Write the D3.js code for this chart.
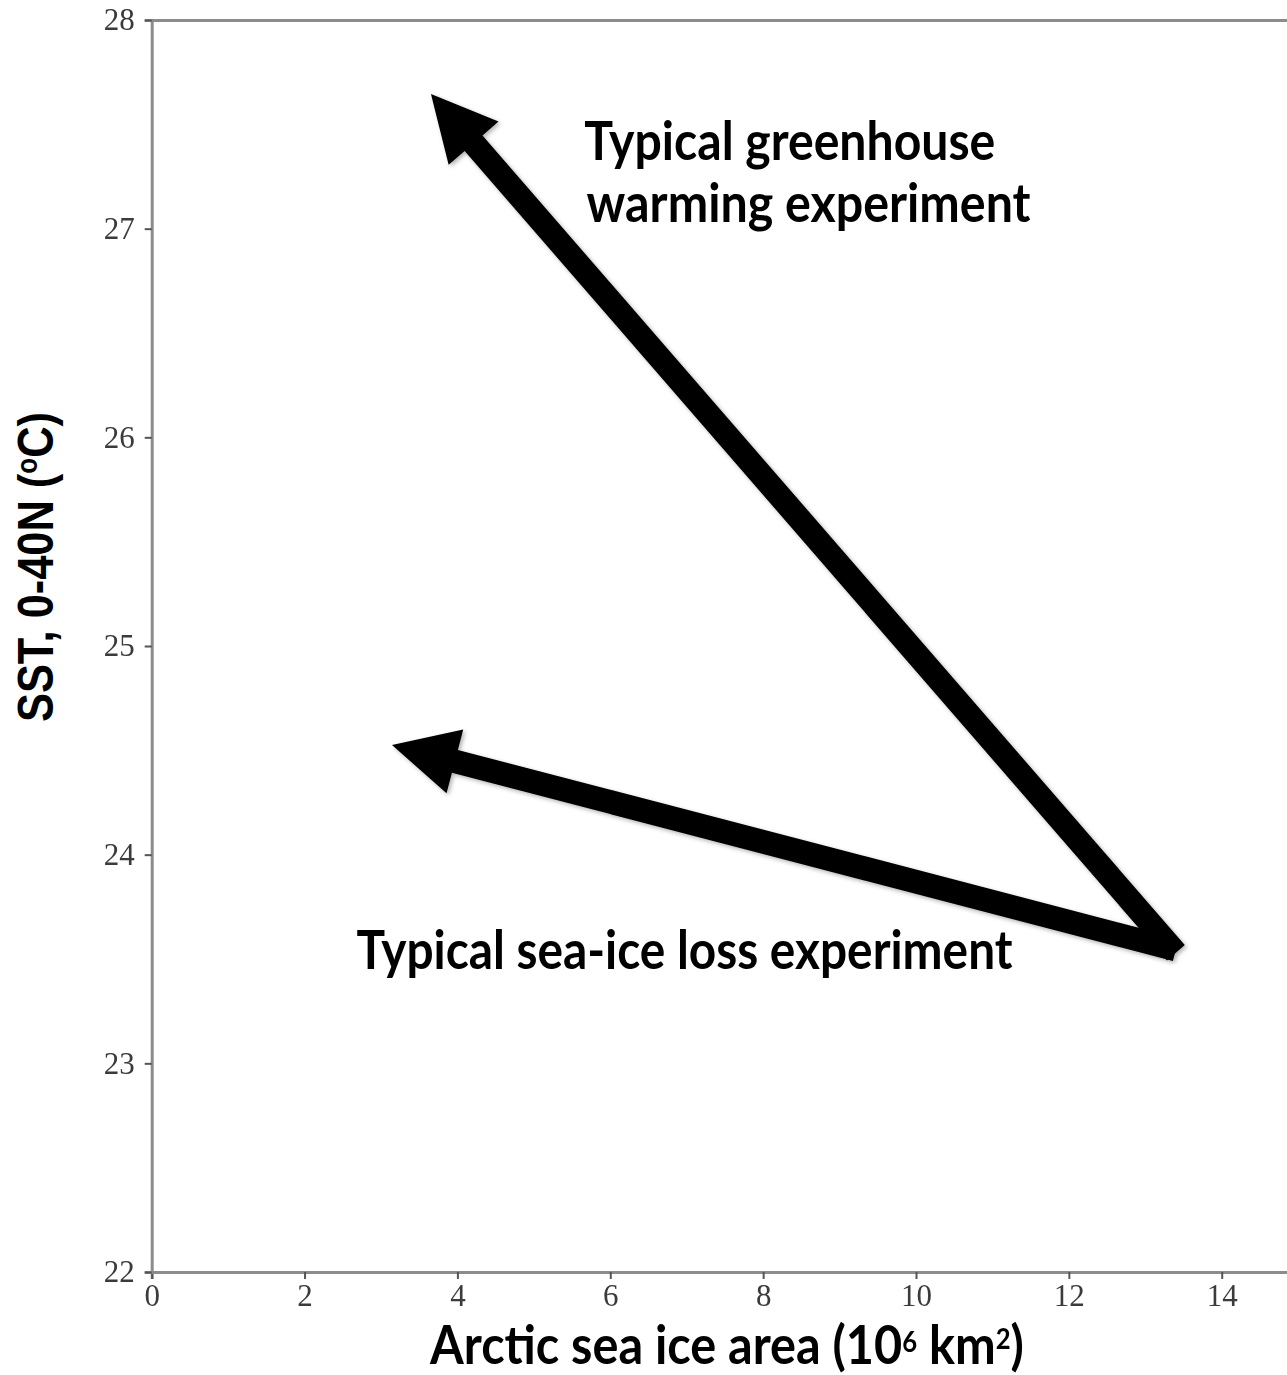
<!DOCTYPE html>
<html>
<head>
<meta charset="utf-8">
<script src="https://cdn.jsdelivr.net/npm/d3@7"></script>
<style>
  html, body { margin: 0; padding: 0; background: #fff; }
  svg { display: block; }
</style>
</head>
<body>
<svg id="chart" width="1287" height="1375"></svg>
<script>
// ===============================
// SST vs Arctic sea ice schematic
// ===============================

// axis ticks
const xTicks = [0, 2, 4, 6, 8, 10, 12, 14];
const yTicks = [22, 23, 24, 25, 26, 27, 28];

// arrows: [sea ice area, SST] for tail and tip
const arrowNames = ['greenhouse', 'seaice'];
const arrowTails = [[13.40, 23.53], [13.40, 23.545]];
const arrowTips = [[3.654, 27.645], [3.144, 24.526]];

// annotation text
const labelLines = ['Typical greenhouse', 'warming experiment', 'Typical sea-ice loss experiment'];
const labelAnchors = [[5.66, 27.33], [5.69, 27.03], [2.68, 23.45]];
const labelLengths = [411, 444, 656];

const svg = d3.select('#chart');
const margin = { left: 151.7, top: 20 };

const x = d3.scaleLinear().domain([0, 15]).range([margin.left, margin.left + 15 * 76.43]);
const y = d3.scaleLinear().domain([22, 28]).range([1272, margin.top]);

const defs = svg.append('defs');
defs.append('filter').attr('id', 'soft')
  .append('feGaussianBlur').attr('stdDeviation', 0.75);
defs.append('filter').attr('id', 'shadow')
  .attr('x', '-10%').attr('y', '-10%').attr('width', '120%').attr('height', '120%')
  .append('feDropShadow')
  .attr('dx', 2).attr('dy', 2).attr('stdDeviation', 2)
  .attr('flood-color', '#000').attr('flood-opacity', 0.3);

// Axes
const axes = svg.append('g').attr('filter', 'url(#soft)');

axes.append('g')
  .attr('transform', `translate(0,${y(22)})`)
  .call(d3.axisBottom(x).tickValues(xTicks).tickSize(7).tickPadding(5).tickFormat(d3.format('d')));

axes.append('g')
  .attr('transform', `translate(${x(0)},0)`)
  .call(d3.axisLeft(y).tickValues(yTicks).tickSize(7).tickPadding(10).tickFormat(d3.format('d')));

// top spine
axes.append('g')
  .attr('transform', `translate(0,${y(28)})`)
  .call(d3.axisTop(x).tickValues([]).tickSizeOuter(0));

axes.selectAll('.domain')
  .attr('stroke', '#8c8c8c')
  .attr('stroke-width', 3);
axes.selectAll('.tick line')
  .attr('stroke', '#555')
  .attr('stroke-width', 2);
axes.selectAll('.tick text')
  .attr('fill', '#3a3a3a')
  .style('font-family', '"Liberation Serif", serif')
  .style('font-size', '31px');

// Arrows
function arrowPath(tail, tip) {
  const x0 = x(tail[0]), y0 = y(tail[1]);
  const x1 = x(tip[0]), y1 = y(tip[1]);
  const dx = x1 - x0, dy = y1 - y0;
  const len = Math.hypot(dx, dy);
  const ux = dx / len, uy = dy / len;
  const px = -uy, py = ux;
  const shaft = 11.8, head = 33, headLen = 65;
  const bx = x1 - ux * headLen, by = y1 - uy * headLen;
  const pts = [
    [x0 + px * shaft, y0 + py * shaft],
    [bx + px * shaft, by + py * shaft],
    [bx + px * head, by + py * head],
    [x1, y1],
    [bx - px * head, by - py * head],
    [bx - px * shaft, by - py * shaft],
    [x0 - px * shaft, y0 - py * shaft]
  ];
  return 'M' + pts.map((p) => p.join(',')).join('L') + 'Z';
}

svg.append('g')
  .attr('filter', 'url(#shadow)')
  .selectAll('path')
  .data(arrowNames)
  .enter()
  .append('path')
  .attr('d', (d, i) => arrowPath(arrowTails[i], arrowTips[i]))
  .attr('fill', '#000');

// Annotations
svg.append('g')
  .selectAll('text')
  .data(labelLines)
  .enter()
  .append('text')
  .attr('x', (d, i) => x(labelAnchors[i][0]))
  .attr('y', (d, i) => y(labelAnchors[i][1]))
  .attr('textLength', (d, i) => labelLengths[i])
  .attr('lengthAdjust', 'spacingAndGlyphs')
  .style('font-family', 'Lato, sans-serif')
  .style('font-weight', 700)
  .style('font-size', '53px')
  .attr('fill', '#000')
  .text((d) => d);

// Axis titles (squeezed horizontally to the reference width)
function fitWidth(sel, target, place) {
  const w = sel.node().getBBox().width;
  sel.attr('transform', `${place} scale(${target / w},1)`);
}

const xTitle = svg.append('text')
  .style('font-family', 'Lato, sans-serif')
  .style('font-weight', 700)
  .style('font-size', '53px')
  .attr('fill', '#000');
xTitle.append('tspan').text('Arctic sea ice area (10');
xTitle.append('tspan').attr('dy', -12).style('font-size', '28px').text('6');
xTitle.append('tspan').attr('dy', 12).text(' km');
xTitle.append('tspan').attr('dy', -15).style('font-size', '28px').text('2');
xTitle.append('tspan').attr('dy', 15).text(')');
fitWidth(xTitle, 595, 'translate(430,1364)');

const yTitle = svg.append('text')
  .style('font-family', '"Liberation Sans", Arial, sans-serif')
  .style('font-weight', 700)
  .style('font-size', '50px')
  .attr('fill', '#000');
yTitle.append('tspan').text('SST, 0-40N (');
yTitle.append('tspan').attr('dy', -16).style('font-size', '30px').text('o');
yTitle.append('tspan').attr('dy', 16).text('C)');
fitWidth(yTitle, 310, 'translate(53,722) rotate(-90)');
</script>
</body>
</html>
